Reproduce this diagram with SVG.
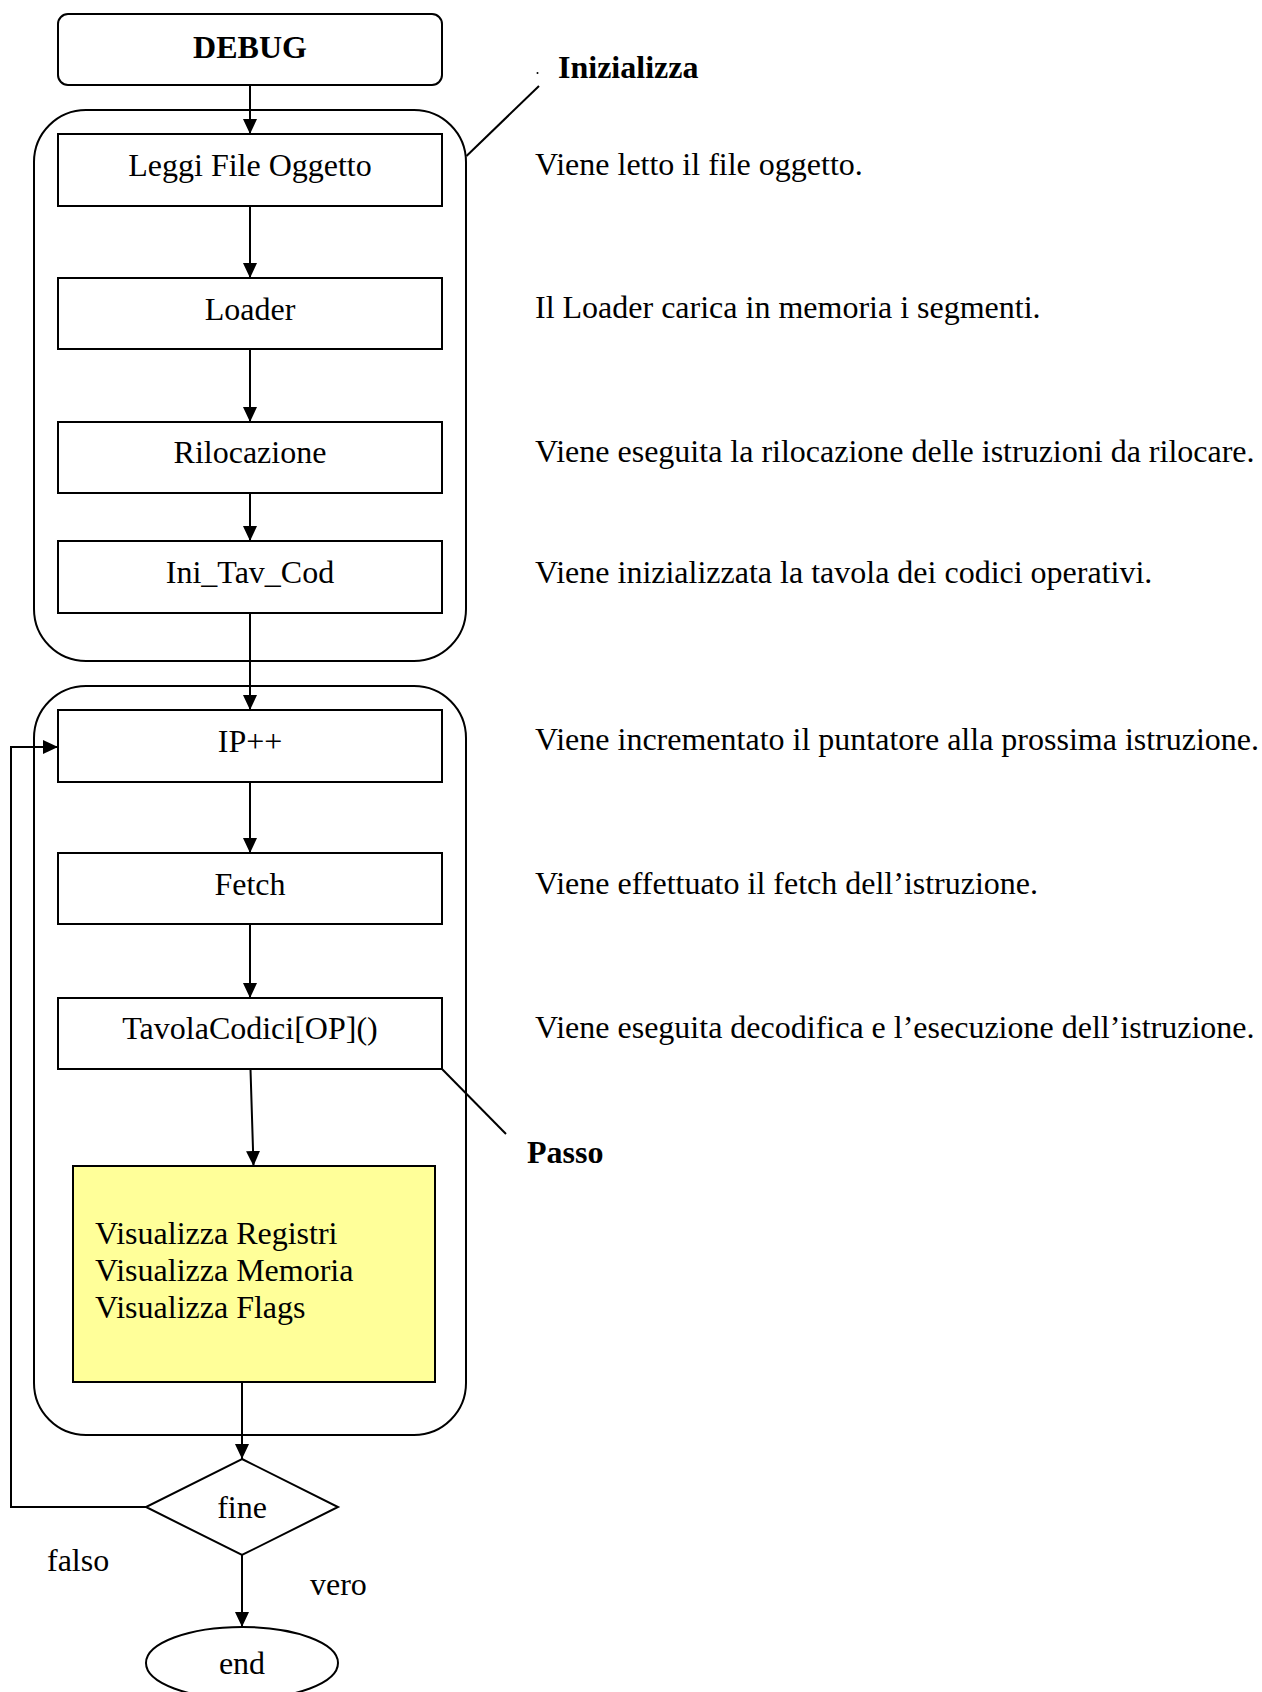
<svg xmlns="http://www.w3.org/2000/svg" width="1262" height="1692" viewBox="0 0 1262 1692">
<style>
.box{fill:#fff;stroke:#000;stroke-width:2}
.grp{fill:none;stroke:#000;stroke-width:2}
.ln{fill:none;stroke:#000;stroke-width:2}
.t{font-family:"Liberation Serif","Times New Roman",serif;font-size:32px;fill:#000}
.c{text-anchor:middle}
.b{font-weight:bold}
</style>
<defs>
<marker id="ah" viewBox="0 0 15 14" refX="15" refY="7" markerWidth="15" markerHeight="14" markerUnits="userSpaceOnUse" orient="auto">
<path d="M0,0 L15,7 L0,14 Z" fill="#000"/>
</marker>
</defs>
<rect width="1262" height="1692" fill="#fff"/>

<g id="group-inizializza">
<rect class="grp" x="34" y="110" width="432" height="551" rx="52" ry="52"/>
</g>
<g id="group-passo">
<rect class="grp" x="34" y="686" width="432" height="749" rx="52" ry="52"/>
</g>

<g id="connectors">
<line class="ln" x1="250" y1="85" x2="250" y2="134" marker-end="url(#ah)"/>
<line class="ln" x1="250" y1="206" x2="250" y2="278" marker-end="url(#ah)"/>
<line class="ln" x1="250" y1="349" x2="250" y2="422" marker-end="url(#ah)"/>
<line class="ln" x1="250" y1="493" x2="250" y2="541" marker-end="url(#ah)"/>
<line class="ln" x1="250" y1="613" x2="250" y2="710" marker-end="url(#ah)"/>
<line class="ln" x1="250" y1="782" x2="250" y2="853" marker-end="url(#ah)"/>
<line class="ln" x1="250" y1="924" x2="250" y2="998" marker-end="url(#ah)"/>
<line class="ln" x1="250.5" y1="1069" x2="253.5" y2="1166" marker-end="url(#ah)"/>
<line class="ln" x1="242" y1="1382" x2="242" y2="1459" marker-end="url(#ah)"/>
<line class="ln" x1="242" y1="1555" x2="242" y2="1627" marker-end="url(#ah)"/>
<polyline class="ln" points="146,1507 11,1507 11,747 58,747" marker-end="url(#ah)"/>
<line class="ln" x1="466.5" y1="156" x2="539" y2="86"/>
<circle cx="537.5" cy="73" r="1" fill="#000"/>
<line class="ln" x1="442" y1="1069" x2="506" y2="1134"/>
</g>

<g id="debug">
<rect class="box" x="58" y="14" width="384" height="71" rx="10" ry="10"/>
<text class="t c b" x="250" y="58">DEBUG</text>
</g>
<g id="leggi">
<rect class="box" x="58" y="134" width="384" height="72"/>
<text class="t c" x="250" y="176">Leggi File Oggetto</text>
</g>
<g id="loader">
<rect class="box" x="58" y="278" width="384" height="71"/>
<text class="t c" x="250" y="320">Loader</text>
</g>
<g id="rilocazione">
<rect class="box" x="58" y="422" width="384" height="71"/>
<text class="t c" x="250" y="463">Rilocazione</text>
</g>
<g id="ini-tav-cod">
<rect class="box" x="58" y="541" width="384" height="72"/>
<text class="t c" x="250" y="583">Ini_Tav_Cod</text>
</g>
<g id="ip">
<rect class="box" x="58" y="710" width="384" height="72"/>
<text class="t c" x="250" y="752">IP++</text>
</g>
<g id="fetch">
<rect class="box" x="58" y="853" width="384" height="71"/>
<text class="t c" x="250" y="895">Fetch</text>
</g>
<g id="tavola">
<rect class="box" x="58" y="998" width="384" height="71"/>
<text class="t c" x="250" y="1039">TavolaCodici[OP]()</text>
</g>
<g id="visualizza">
<rect x="73" y="1166" width="362" height="216" fill="#ffff99" stroke="#000" stroke-width="2"/>
<text class="t" x="95" y="1244">Visualizza Registri</text>
<text class="t" x="95" y="1281">Visualizza Memoria</text>
<text class="t" x="95" y="1318">Visualizza Flags</text>
</g>
<g id="fine">
<polygon class="box" points="242,1459 338,1507 242,1555 146,1507"/>
<text class="t c" x="242" y="1518">fine</text>
</g>
<g id="end">
<ellipse class="box" cx="242" cy="1663" rx="96" ry="36"/>
<text class="t c" x="242" y="1674">end</text>
</g>

<g id="labels">
<text class="t b" x="558" y="78">Inizializza</text>
<text class="t b" x="527" y="1163">Passo</text>
<text class="t" x="47" y="1571">falso</text>
<text class="t" x="310" y="1595">vero</text>
<text class="t" x="535" y="175">Viene letto il file oggetto.</text>
<text class="t" x="535" y="318">Il Loader carica in memoria i segmenti.</text>
<text class="t" x="535" y="462">Viene eseguita la rilocazione delle istruzioni da rilocare.</text>
<text class="t" x="535" y="583">Viene inizializzata la tavola dei codici operativi.</text>
<text class="t" x="535" y="750">Viene incrementato il puntatore alla prossima istruzione.</text>
<text class="t" x="535" y="894">Viene effettuato il fetch dell’istruzione.</text>
<text class="t" x="535" y="1038">Viene eseguita decodifica e l’esecuzione dell’istruzione.</text>
</g>
</svg>
